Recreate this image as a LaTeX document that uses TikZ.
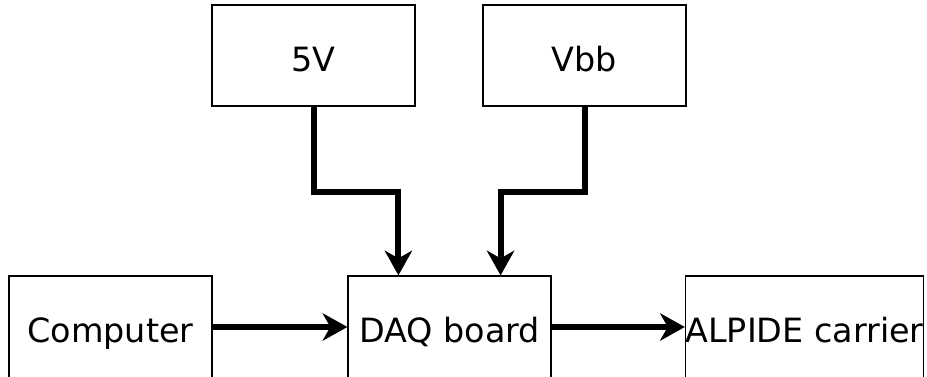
\documentclass[tikz,border=0pt]{standalone}
\usepackage{fontspec}
\setmainfont{DejaVu Sans}
\usetikzlibrary{calc}
\tikzset{
  blockbox/.style={draw=black,line width=1.3pt,rectangle,inner sep=0pt,
    minimum width=203pt,minimum height=101pt,text height=32pt,text depth=0pt,
    font=\fontsize{33.4}{40}\selectfont},
  lowbox/.style={blockbox,minimum height=102pt,text height=30pt},
  flow/.style={line width=6pt,line join=miter,shorten >=16pt},
  % filled arrowhead with a notched back, pointing along +x
  headtip/.pic={\fill[black] (0,0) -- (-25,14) -- (-17,0) -- (-25,-14) -- cycle;}
}
\begin{document}
\begin{tikzpicture}[x=1pt,y=-1pt]
  \useasboundingbox (0,0) rectangle (927,377);
  \clip (0,0) rectangle (927,377);
  % supply boxes
  \node[blockbox] (v5)  at (313.5,55.5) {5V};
  \node[blockbox] (vbb) at (584.5,55.5) {Vbb};
  % main chain
  \node[lowbox] (pc)  at (110.5,327) {Computer};
  \node[lowbox] (daq) at (449.5,327) {DAQ board};
  \node[lowbox,minimum width=237pt] (alp) at (804.5,327) {ALPIDE carrier};
  % supply inputs on the DAQ board
  \coordinate (daqA) at ($(daq.north west)!0.25!(daq.north east)$);
  \coordinate (daqB) at ($(daq.north west)!0.75!(daq.north east)$);
  \draw[flow] (v5.south) -- ++(0,85) -| (daqA);
  \draw[flow] (vbb.south) -- ++(0,85) -| (daqB);
  \draw[flow] (pc.east) -- (daq.west);
  \draw[flow] (daq.east) -- (alp.west);
  % arrowheads
  \pic[rotate=-90] at (daqA) {headtip};
  \pic[rotate=-90] at (daqB) {headtip};
  \pic at (daq.west) {headtip};
  \pic at (alp.west) {headtip};
\end{tikzpicture}
\end{document}
